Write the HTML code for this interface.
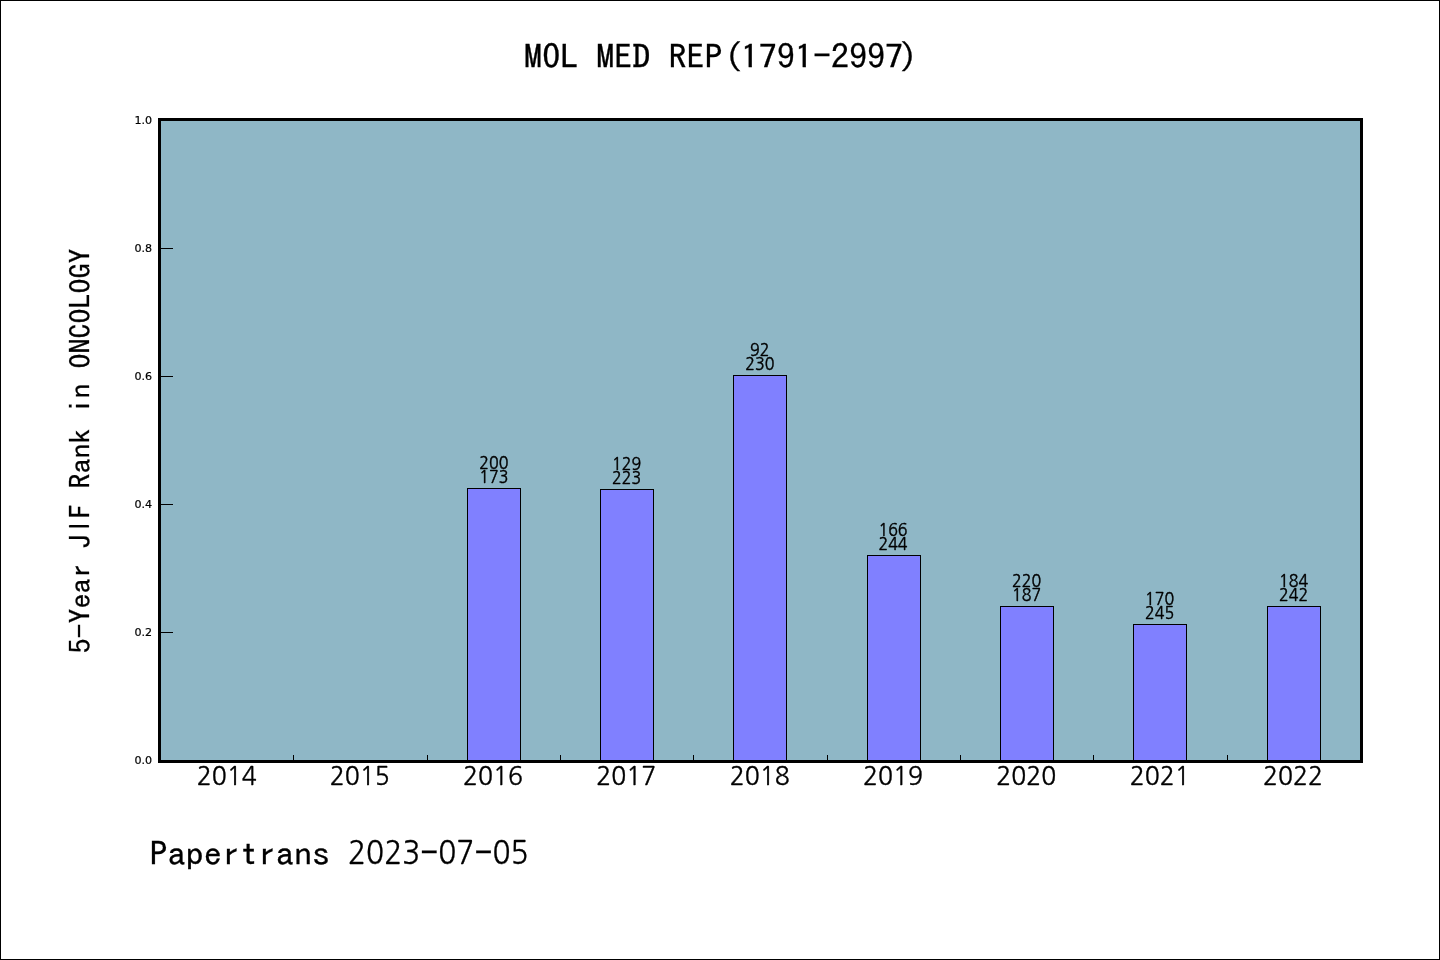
<!DOCTYPE html>
<html lang="en">
<head>
<meta charset="utf-8">
<title>MOL MED REP(1791-2997)</title>
<style>
html,body{margin:0;padding:0;background:#fff;}
body{width:1440px;height:960px;overflow:hidden;}
svg{display:block;}
.h text{font-family:IPAGothic, 'Liberation Mono', monospace;fill:#000;white-space:pre;stroke:#000;stroke-width:0.3px;}
.d text,.h .d{font-family:NanumGothic, 'Liberation Sans', sans-serif;fill:#000;stroke:#000;}
.s text{font-family:'DejaVu Sans', 'Liberation Sans', sans-serif;font-size:11.1px;fill:#000;text-anchor:end;stroke:#000;stroke-width:0.2px;}
</style>
</head>
<body>
<svg width="1440" height="960" viewBox="0 0 1440 960">
<rect x="0.5" y="0.5" width="1439" height="959" fill="#fff" stroke="#000" stroke-width="1"/>
<rect x="161" y="121" width="1199" height="639" fill="#8fb7c6"/>
<g stroke="#000" stroke-width="1" fill="#8080ff">
<rect x="467.5" y="488.5" width="53" height="272.5"/>
<rect x="600.5" y="489.5" width="53" height="271.5"/>
<rect x="733.5" y="375.5" width="53" height="385.5"/>
<rect x="867.5" y="555.5" width="53" height="205.5"/>
<rect x="1000.5" y="606.5" width="53" height="154.5"/>
<rect x="1133.5" y="624.5" width="53" height="136.5"/>
<rect x="1267.5" y="606.5" width="53" height="154.5"/>
</g>
<g stroke="#000" stroke-width="1" fill="none">
<line x1="160" y1="248.5" x2="173" y2="248.5"/>
<line x1="160" y1="376.5" x2="173" y2="376.5"/>
<line x1="160" y1="504.5" x2="173" y2="504.5"/>
<line x1="160" y1="632.5" x2="173" y2="632.5"/>
<line x1="293.5" y1="761" x2="293.5" y2="755"/>
<line x1="427.5" y1="761" x2="427.5" y2="755"/>
<line x1="560.5" y1="761" x2="560.5" y2="755"/>
<line x1="693.5" y1="761" x2="693.5" y2="755"/>
<line x1="827.5" y1="761" x2="827.5" y2="755"/>
<line x1="960.5" y1="761" x2="960.5" y2="755"/>
<line x1="1093.5" y1="761" x2="1093.5" y2="755"/>
<line x1="1227.5" y1="761" x2="1227.5" y2="755"/>
</g>
<rect x="159.5" y="119.5" width="1202" height="642" fill="none" stroke="#000" stroke-width="3"/>
<g class="s">
<text x="152.2" y="124.05">1.0</text>
<text x="152.2" y="252.05">0.8</text>
<text x="152.2" y="380.05">0.6</text>
<text x="152.2" y="508.05">0.4</text>
<text x="152.2" y="636.05">0.2</text>
<text x="152.2" y="764.05">0.0</text>
</g>
<g class="h">
<text transform="translate(524.1 68.86) scale(1 0.915)" font-size="36.1"><tspan x="0" textLength="198.55" lengthAdjust="spacingAndGlyphs">MOL MED REP</tspan><tspan x="200.55">(</tspan><tspan x="216.60" textLength="72.20" lengthAdjust="spacingAndGlyphs">1791</tspan><tspan x="288.80" y="-1.6">-</tspan><tspan x="306.85" y="0" textLength="72.20" lengthAdjust="spacingAndGlyphs">2997</tspan><tspan x="375.05">)</tspan></text>
<text transform="translate(149.5 865.56) scale(1 0.915)" font-size="36.1"><tspan x="0" textLength="180.50" lengthAdjust="spacingAndGlyphs">Papertrans</tspan> <tspan class="d" x="198.55" y="-1.6" font-size="35.6" stroke-width="0.35" textLength="72.20" lengthAdjust="spacingAndGlyphs">2023</tspan><tspan x="270.75" y="-1.9">-</tspan><tspan class="d" x="288.80" y="-1.6" font-size="35.6" stroke-width="0.35" textLength="36.10" lengthAdjust="spacingAndGlyphs">07</tspan><tspan x="324.90" y="-1.9">-</tspan><tspan class="d" x="342.95" y="-1.6" font-size="35.6" stroke-width="0.35" textLength="36.10" lengthAdjust="spacingAndGlyphs">05</tspan></text>
<text transform="translate(90.38 653.5) rotate(-90) scale(1 0.915)" font-size="30"><tspan x="0.00" y="0" textLength="15.00" lengthAdjust="spacingAndGlyphs">5</tspan><tspan x="15.00" y="-1.4">-</tspan><tspan x="30.00" y="0" textLength="90.00" lengthAdjust="spacingAndGlyphs">Year J</tspan><tspan class="d" x="123.81" y="-2.64" font-size="28.4" stroke-width="0.2">I</tspan><tspan x="135.00" y="0" textLength="270.00" lengthAdjust="spacingAndGlyphs">F Rank in ONCOLOGY</tspan></text>
</g>
<g class="d">
<text transform="translate(196.87 784.90) scale(1 0.855)" font-size="30" stroke-width="0.45" textLength="60.00" lengthAdjust="spacingAndGlyphs">2014</text>
<text transform="translate(329.70 784.90) scale(1 0.855)" font-size="30" stroke-width="0.45" textLength="60.00" lengthAdjust="spacingAndGlyphs">2015</text>
<text transform="translate(463.03 784.90) scale(1 0.855)" font-size="30" stroke-width="0.45" textLength="60.00" lengthAdjust="spacingAndGlyphs">2016</text>
<text transform="translate(596.37 784.90) scale(1 0.855)" font-size="30" stroke-width="0.45" textLength="60.00" lengthAdjust="spacingAndGlyphs">2017</text>
<text transform="translate(729.70 784.90) scale(1 0.855)" font-size="30" stroke-width="0.45" textLength="60.00" lengthAdjust="spacingAndGlyphs">2018</text>
<text transform="translate(863.03 784.90) scale(1 0.855)" font-size="30" stroke-width="0.45" textLength="60.00" lengthAdjust="spacingAndGlyphs">2019</text>
<text transform="translate(996.37 784.90) scale(1 0.855)" font-size="30" stroke-width="0.45" textLength="60.00" lengthAdjust="spacingAndGlyphs">2020</text>
<text transform="translate(1129.70 784.90) scale(1 0.855)" font-size="30" stroke-width="0.45" textLength="60.00" lengthAdjust="spacingAndGlyphs">2021</text>
<text transform="translate(1263.03 784.90) scale(1 0.855)" font-size="30" stroke-width="0.45" textLength="60.00" lengthAdjust="spacingAndGlyphs">2022</text>
<text transform="translate(479.32 468.60) scale(1 0.875)" font-size="19.44" stroke-width="0.5" textLength="29.16" lengthAdjust="spacingAndGlyphs">200</text>
<text transform="translate(479.32 482.80) scale(1 0.875)" font-size="19.44" stroke-width="0.5" textLength="29.16" lengthAdjust="spacingAndGlyphs">173</text>
<text transform="translate(612.02 469.60) scale(1 0.875)" font-size="19.44" stroke-width="0.5" textLength="29.16" lengthAdjust="spacingAndGlyphs">129</text>
<text transform="translate(612.02 483.80) scale(1 0.875)" font-size="19.44" stroke-width="0.5" textLength="29.16" lengthAdjust="spacingAndGlyphs">223</text>
<text transform="translate(750.08 355.60) scale(1 0.875)" font-size="19.44" stroke-width="0.5" textLength="19.44" lengthAdjust="spacingAndGlyphs">92</text>
<text transform="translate(745.22 369.80) scale(1 0.875)" font-size="19.44" stroke-width="0.5" textLength="29.16" lengthAdjust="spacingAndGlyphs">230</text>
<text transform="translate(878.42 535.60) scale(1 0.875)" font-size="19.44" stroke-width="0.5" textLength="29.16" lengthAdjust="spacingAndGlyphs">166</text>
<text transform="translate(878.42 549.80) scale(1 0.875)" font-size="19.44" stroke-width="0.5" textLength="29.16" lengthAdjust="spacingAndGlyphs">244</text>
<text transform="translate(1012.12 586.60) scale(1 0.875)" font-size="19.44" stroke-width="0.5" textLength="29.16" lengthAdjust="spacingAndGlyphs">220</text>
<text transform="translate(1012.12 600.80) scale(1 0.875)" font-size="19.44" stroke-width="0.5" textLength="29.16" lengthAdjust="spacingAndGlyphs">187</text>
<text transform="translate(1145.12 604.60) scale(1 0.875)" font-size="19.44" stroke-width="0.5" textLength="29.16" lengthAdjust="spacingAndGlyphs">170</text>
<text transform="translate(1145.12 618.80) scale(1 0.875)" font-size="19.44" stroke-width="0.5" textLength="29.16" lengthAdjust="spacingAndGlyphs">245</text>
<text transform="translate(1279.02 586.60) scale(1 0.875)" font-size="19.44" stroke-width="0.5" textLength="29.16" lengthAdjust="spacingAndGlyphs">184</text>
<text transform="translate(1279.02 600.80) scale(1 0.875)" font-size="19.44" stroke-width="0.5" textLength="29.16" lengthAdjust="spacingAndGlyphs">242</text>
</g>
</svg>
</body>
</html>
